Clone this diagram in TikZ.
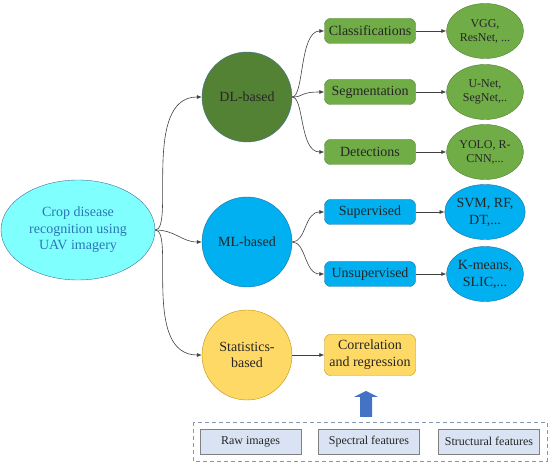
\documentclass[tikz,border=0pt]{standalone}
\usepackage{fontspec}
\setmainfont{LiberationSerif}[Extension=.ttf,UprightFont=*-Regular,BoldFont=*-Bold]
\usetikzlibrary{shapes.geometric,arrows.meta}
\definecolor{rootf}{HTML}{80FFFF}
\definecolor{roott}{HTML}{2E75B6}
\definecolor{edge}{HTML}{41719C}
\definecolor{dlg}{HTML}{548235}
\definecolor{grf}{HTML}{70AD47}
\definecolor{grb}{HTML}{507E32}
\definecolor{blf}{HTML}{00B0F0}
\definecolor{blb}{HTML}{1F6E9C}
\definecolor{yef}{HTML}{FFD966}
\definecolor{yeb}{HTML}{BF9000}
\definecolor{lav}{HTML}{DAE3F3}
\definecolor{dsh}{HTML}{8497B0}
\definecolor{arr}{HTML}{4472C4}
\tikzset{
	conn/.style={draw=black!75,line width=0.6pt,-{Latex[length=5pt,width=4pt]}},
	kreis/.style={circle,minimum size=90pt,inner sep=0pt,align=center,text=black!85,
		font=\fontsize{14}{16.5}\selectfont},
	kasten/.style={rounded corners=6pt,minimum width=91pt,minimum height=25pt,inner sep=1pt,
		align=center,text=black!85,font=\fontsize{14}{17}\selectfont},
	oval/.style={ellipse,minimum width=77pt,minimum height=55pt,inner sep=0pt,align=center,
		text=black!85},
	feld/.style={draw=black!50,fill=lav,minimum width=101pt,minimum height=25pt,
		text=black!85,font=\fontsize{12}{14}\selectfont}
}
\begin{document}
\begin{tikzpicture}[x=1pt,y=-1pt]
	\useasboundingbox (0,0) rectangle (550,465);
	\node[ellipse,draw=edge,fill=rootf,text=roott,minimum width=154pt,minimum height=100pt,
		align=center,font=\fontsize{14}{16.5}\selectfont] (Cr) at (78,230)
		{Crop disease\\recognition using\\UAV imagery};
	\node[kreis,draw=edge,fill=dlg] (DL) at (247,97) {DL-based};
	\node[kreis,draw=blb,fill=blf] (ML) at (247,242) {ML-based};
	\node[kreis,draw=yeb,fill=yef] (St) at (247,355) {Statistics-\\based};
	\draw[conn] (Cr.east) .. controls +(20,0) and +(-60,0) .. (DL.west);
	\draw[conn] (Cr.east) .. controls +(20,0) and +(-20,0) .. (ML.west);
	\draw[conn] (Cr.east) .. controls +(20,0) and +(-60,0) .. (St.west);
	\foreach \n/\y/\t/\o in {Cl/31/Classifications/{VGG,\\ResNet, ...},
		Sg/92/Segmentation/{U-Net,\\SegNet,..},Dt/152/Detections/{YOLO, R-\\CNN,...}}{
		\node[kasten,draw=grb,fill=grf] (\n) at (370,\y) {\t};
		\node[oval,draw=grb,fill=grf,font=\fontsize{12}{14}\selectfont] (R\n) at (485,\y) {\o};
		\draw[conn] (DL.east) .. controls +(12,0) and +(-25,0) .. (\n.west);
		\draw[conn] (\n) -- (R\n);
	}
	\foreach \n/\y/\t/\o in {Su/212/Supervised/{SVM, RF,\\DT,...},
		Us/274/Unsupervised/{K-means,\\SLIC,...}}{
		\node[kasten,draw=blb,fill=blf] (\n) at (370,\y) {\t};
		\node[oval,draw=blb,fill=blf,font=\fontsize{14}{17}\selectfont] (R\n) at (485,\y) {\o};
		\draw[conn] (ML.east) .. controls +(14,0) and +(-20,0) .. (\n.west);
		\draw[conn] (\n) -- (R\n);
	}
	\node[kasten,draw=yeb,fill=yef,minimum height=41pt] (Co) at (370,355)
		{Correlation\\and regression};
	\draw[conn] (St) -- (Co);
	\draw[dsh,dashed,line width=0.9pt,dash pattern=on 4pt off 3pt] (193,422) rectangle (547,461);
	\node[feld] (Rw) at (250.5,441.5) {Raw images};
	\node[feld] (Sp) at (369,441.5) {Spectral features};
	\node[feld] (Sf) at (489,441.5) {Structural features};
	\fill[arr] (360,417) -- (360,397) -- (354,397) -- (366,391) -- (378,397)
		-- (372,397) -- (372,417) -- cycle;
\end{tikzpicture}
\end{document}
